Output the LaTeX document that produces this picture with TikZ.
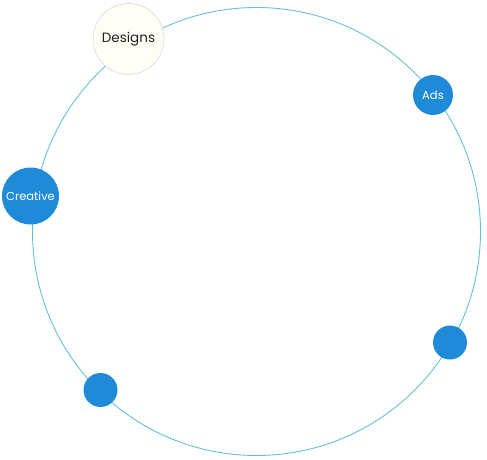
\documentclass[tikz,border=0pt]{standalone}
\usepackage{fontspec}
\setmainfont{Poppins}
\definecolor{ring}{HTML}{62C0DE}
\definecolor{dotblue}{HTML}{1F8BD8}
\definecolor{cream}{HTML}{FFFDF6}
\definecolor{creamline}{HTML}{D9D8CF}
\definecolor{darktext}{HTML}{222222}
\begin{document}
\begin{tikzpicture}[x=1pt,y=-1pt,
  dot/.style={circle,fill=dotblue,draw=none,inner sep=0pt,text=white,font=\fontsize{11.5}{13}\selectfont},
  lightdot/.style={circle,fill=cream,draw=creamline,line width=0.6pt,inner sep=0pt,text=darktext,font=\fontsize{13.5}{15}\selectfont}]
\useasboundingbox (0,0) rectangle (487,460);
\coordinate (c) at (256.5,231.5);
\draw[ring,line width=0.9pt] (c) circle (224);
\node[lightdot,minimum size=71pt] (designs) at (128.5,39) {Designs};
\node[dot,minimum size=40pt] (ads) at (433,95) {Ads};
\node[dot,minimum size=57pt] (creative) at (30.5,196) {Creative};
\node[dot,minimum size=34pt] (br) at (450,342.5) {};
\node[dot,minimum size=34pt] (bl) at (100.5,390) {};
\end{tikzpicture}
\end{document}
